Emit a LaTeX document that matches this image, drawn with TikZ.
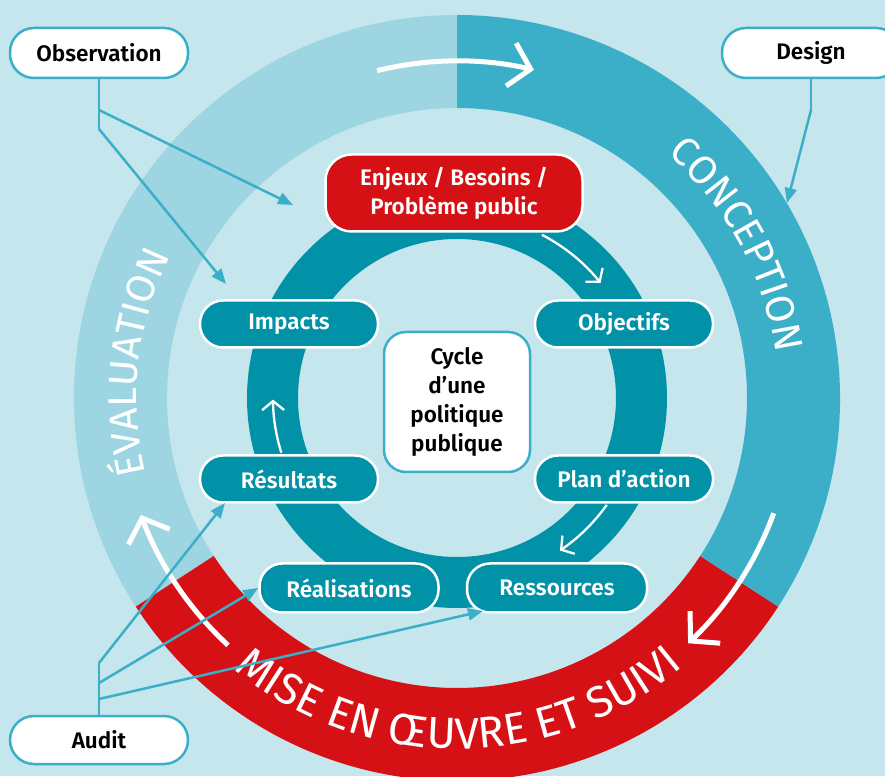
\documentclass[tikz,border=0pt]{standalone}
\usepackage{fontspec}
\setmainfont{Fira Sans}[BoldFont={Fira Sans SemiBold}]
\usetikzlibrary{arrows.meta,decorations.text}
\definecolor{bgc}{RGB}{196,230,236}
\definecolor{evalc}{RGB}{157,213,226}
\definecolor{concc}{RGB}{60,175,200}
\definecolor{redc}{RGB}{213,17,22}
\definecolor{tealc}{RGB}{2,146,167}
\newcommand\ringfont{\fontsize{40}{40}\selectfont}
\newcommand\ringbigfont{\fontsize{44}{44}\selectfont}
\newcommand\lblfont{\fontsize{22.5}{29}\selectfont\bfseries}
\begin{document}
\begin{tikzpicture}[x=1pt,y=1pt,
  lbl/.style={draw=concc, line width=2.5pt, fill=white, rounded corners=24pt, minimum width=178pt, minimum height=50pt, inner sep=0pt, font=\lblfont, text=black},
  pill/.style={draw=white, line width=2.5pt, fill=tealc, rounded corners=23pt, minimum width=178pt, minimum height=47pt, inner sep=0pt, font=\lblfont, text=white},
  conn/.style={draw=concc, line width=2.5pt, -{Triangle[length=15pt,width=12pt]}},
  plainconn/.style={draw=concc, line width=2.5pt},
  innerarr/.style={draw=white, line width=2.3pt, -{Straight Barb[length=9pt,width=22pt]}},
  outerarr/.style={draw=white, line width=5pt, -{Straight Barb[length=20pt,width=44pt]}},
  ringtext/.style={decorate, decoration={text along path, text align=center, text={|\ringfont\color{white}|#1}}},
  ringbigtext/.style={decorate, decoration={text along path, text align=center, text={|\ringbigfont\color{white}|#1}}}
]
\fill[bgc] (0,0) rectangle (885,776);
\useasboundingbox (0,0) rectangle (885,776);

\begin{scope}[shift={(457,378)}]
  \fill[evalc] (90:383) arc[start angle=90,end angle=213,radius=383] -- (213:290) arc[start angle=213,end angle=90,radius=290] -- cycle;
  \fill[redc] (213:383) arc[start angle=213,end angle=327,radius=383] -- (327:290) arc[start angle=327,end angle=213,radius=290] -- cycle;
  \fill[concc] (327:383) arc[start angle=327,end angle=450,radius=383] -- (450:290) arc[start angle=450,end angle=327,radius=290] -- cycle;
  \fill[tealc, even odd rule] (0,0) circle[radius=210] (0,0) circle[radius=159];

  \path[ringtext={CONCEPTION}] (68.6:322) arc[start angle=68.6,end angle=-11.4,radius=322];
  \path[ringtext={ÉVALUATION}] (213.6:320) arc[start angle=213.6,end angle=133.6,radius=320];
  \path[ringbigtext={MISE EN ŒUVRE ET SUIVI}] (215.3:351) arc[start angle=215.3,end angle=325.3,radius=351];

  \draw[outerarr] (103.7:337) arc[start angle=103.7,end angle=76.8,radius=337];
  \draw[outerarr] (-20:337) arc[start angle=-20,end angle=-46.7,radius=337];
  \draw[outerarr] (227.2:337) arc[start angle=227.2,end angle=200.3,radius=337];

  \draw[innerarr] (62.5:184) arc[start angle=62.5,end angle=38.7,radius=184];
  \draw[innerarr] (-35.5:184) arc[start angle=-35.5,end angle=-56,radius=184];
  \draw[innerarr] (197.3:184) arc[start angle=197.3,end angle=180.5,radius=184];
\end{scope}

\node[lbl] (obs) at (99,723) {Observation};
\node[lbl] (des) at (811,723) {Design};
\node[lbl, minimum height=48pt] (aud) at (99,36) {Audit};
\node[pill, fill=redc, minimum width=257pt, minimum height=77pt, rounded corners=26pt, align=center] (enj) at (454,583) {Enjeux / Besoins /\\Problème public};
\node[pill] (imp) at (289,452) {Impacts};
\node[pill] (obj) at (624,452) {Objectifs};
\node[pill] (resu) at (289,297) {Résultats};
\node[pill] (plan) at (624,297) {Plan d’action};
\node[pill, minimum width=179pt, minimum height=49pt] (real) at (349,188) {Réalisations};
\node[pill, minimum width=180pt, minimum height=49pt] (ress) at (557,188) {Ressources};
\node[draw=concc, line width=2.5pt, fill=white, rounded corners=22pt, minimum width=146pt, minimum height=140pt, inner sep=0pt, align=center, font=\lblfont] (cyc) at (457,374) {Cycle\\d’une\\politique\\publique};

\coordinate (obsA) at (99,666);
\coordinate (obsB) at (99,647);
\coordinate (obsT1) at (293,571);
\coordinate (obsT2) at (226,492);
\draw[plainconn] (obs.south) -- (obsB);
\draw[conn] (obsA) -- (obsT1);
\draw[conn] (obsB) -- (obsT2);

\coordinate (desA) at (811,666);
\coordinate (desT) at (787,573);
\draw[plainconn] (des.south) -- (desA);
\draw[conn] (desA) -- (desT);

\coordinate (audA) at (99,113);
\coordinate (audB) at (99,93);
\coordinate (audC) at (99,77);
\coordinate (resT) at (225,273);
\coordinate (ressT) at (483,165);
\draw[plainconn] (aud.north) -- (audA);
\draw[conn] (audA) -- (resT);
\draw[conn] (audB) -- (real.west);
\draw[conn] (audC) -- (ressT);
\end{tikzpicture}
\end{document}
